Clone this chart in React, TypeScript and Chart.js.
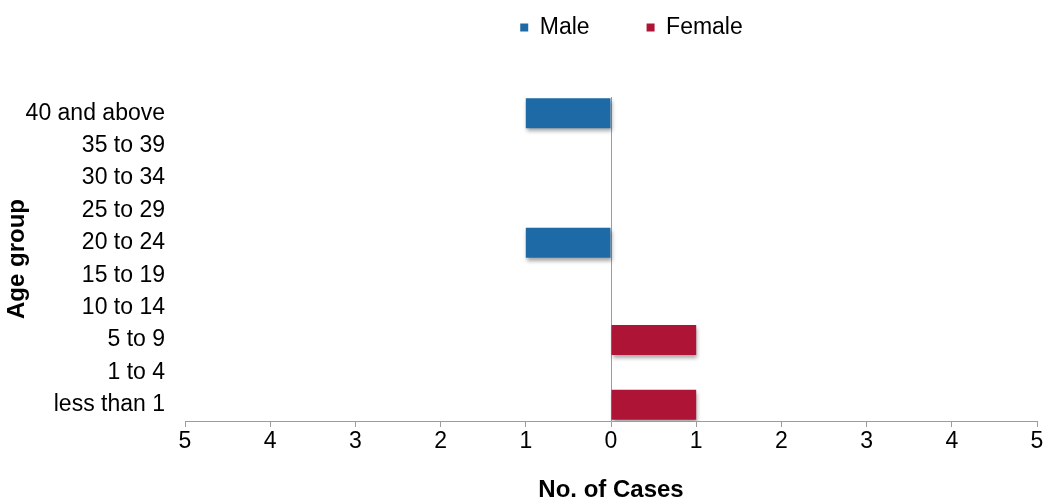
import React, { useEffect, useRef } from 'react';
import { Chart, registerables } from 'chart.js';

Chart.register(...registerables);

const categories = [
  '40 and above',
  '35 to 39',
  '30 to 34',
  '25 to 29',
  '20 to 24',
  '15 to 19',
  '10 to 14',
  '5 to 9',
  '1 to 4',
  'less than 1',
];
const maleCases = [1, 0, 0, 0, 1, 0, 0, 0, 0, 0];
const femaleCases = [0, 0, 0, 0, 0, 0, 0, 1, 0, 1];
const xMin = -5;
const xMax = 5;

const MALE_COLOR = '#1E6AA6';
const FEMALE_COLOR = '#AE1436';
const AXIS_COLOR = '#9C9C9C';
const FONT = "'Liberation Sans', Arial, sans-serif";

const shadowPlugin = {
  id: 'barShadow',
  beforeDatasetsDraw(chart: any) {
    const ctx = chart.ctx;
    ctx.save();
    ctx.shadowColor = 'rgba(0,0,0,0.35)';
    ctx.shadowBlur = 4;
    ctx.shadowOffsetX = 1;
    ctx.shadowOffsetY = 3;
  },
  afterDatasetsDraw(chart: any) {
    chart.ctx.restore();
  },
};

const legendPlacement = {
  id: 'legendPlacement',
  beforeDraw(chart: any) {
    const lg = chart.legend;
    if (!lg) return;
    const h = lg.height;
    const w = lg.right - lg.left;
    lg.top = -41;
    lg.bottom = lg.top + h;
    lg.left = 113;
    lg.right = 113 + w;
  },
};

export default function App() {
  const ref = useRef<HTMLCanvasElement>(null);

  useEffect(() => {
    if (!ref.current) return;
    Chart.defaults.font.family = FONT;
    Chart.defaults.color = '#000';
    const chart = new Chart(ref.current, {
      type: 'bar',
      data: {
        labels: categories,
        datasets: [
          {
            label: 'Male',
            data: maleCases.map((v) => (v === 0 ? null : -v)),
            backgroundColor: MALE_COLOR,
            borderWidth: 0,
            barPercentage: 0.93,
            categoryPercentage: 1,
          },
          {
            label: 'Female',
            data: femaleCases.map((v) => (v === 0 ? null : v)),
            backgroundColor: FEMALE_COLOR,
            borderWidth: 0,
            barPercentage: 0.93,
            categoryPercentage: 1,
          },
        ],
      },
      options: {
        indexAxis: 'y',
        responsive: false,
        maintainAspectRatio: false,
        animation: false,
        layout: { padding: { left: 0, right: 8, top: 7, bottom: 0 } },
        plugins: {
          tooltip: { enabled: false },
          legend: {
            position: 'top',
            align: 'center',
            labels: {
              boxWidth: 8,
              boxHeight: 8,
              padding: 57,
              color: '#000',
              font: { size: 23, family: FONT },
            },
          },
        },
        scales: {
          x: {
            type: 'linear',
            min: xMin,
            max: xMax,
            stacked: true,
            afterFit: (scale: any) => {
              scale.height = 79;
              scale.paddingRight = 0;
              scale.paddingLeft = 0;
            },
            ticks: {
              stepSize: 1,
              padding: 1,
              color: '#000',
              font: { size: 23, family: FONT },
              callback: (v: any) => String(Math.abs(Number(v))),
            },
            grid: {
              drawOnChartArea: true,
              drawTicks: true,
              tickLength: 6,
              tickColor: AXIS_COLOR,
              color: (c: any) => (c.tick && c.tick.value === 0 ? AXIS_COLOR : 'rgba(0,0,0,0)'),
            },
            border: { display: true, color: AXIS_COLOR, width: 1 },
            title: {
              display: true,
              text: 'No. of Cases',
              color: '#000',
              font: { size: 24, weight: 'bold', family: FONT, lineHeight: 1 },
              padding: { top: 0, bottom: -2 },
            },
          },
          y: {
            type: 'category',
            stacked: true,
            afterFit: (scale: any) => {
              scale.width = 185;
            },
            ticks: {
              padding: 20,
              color: '#000',
              font: { size: 23, family: FONT },
            },
            grid: { display: false, drawTicks: false },
            border: { display: false },
            title: {
              display: true,
              text: 'Age group',
              color: '#000',
              font: { size: 24, weight: 'bold', family: FONT, lineHeight: 1 },
              padding: { top: 5, bottom: 0 },
            },
          },
        },
      } as any,
      plugins: [shadowPlugin, legendPlacement],
    });
    return () => chart.destroy();
  }, []);

  return (
    <div style={{ position: 'fixed', left: 0, top: 0, width: 1045, height: 500, background: '#fff' }}>
      <canvas ref={ref} width={1045} height={500} />
    </div>
  );
}
